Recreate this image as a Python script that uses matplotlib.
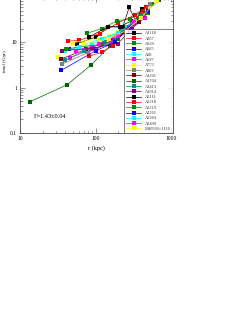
import matplotlib
matplotlib.use("Agg")
import matplotlib.pyplot as plt
import numpy as np

plt.rcParams['font.family'] = ['Liberation Serif', 'DejaVu Serif']

names = ["A1118", "A267", "A520", "A665", "A68", "A697", "A773", "A963",
         "A1201", "A1704", "A1413", "A1914", "A2111", "A2218", "A2219",
         "A2261", "A2384", "A2409", "MS0906+1110"]
colors = ["#000000", "#ff0000", "#008c00", "#0000ff", "#00ffff", "#ff00ff",
          "#ffff00", "#808080", "#800000", "#006400", "#009090", "#800080",
          "#000000", "#ff0000", "#008c00", "#0000ff", "#00ffff", "#ff00ff",
          "#ffff00"]

r_A1118 = [57, 100, 146, 210, 300]
t_A1118 = [9.4, 13, 22, 22, 30]
r_A267 = [43, 60, 113, 200, 330, 460]
t_A267 = [10.6, 11, 15.6, 27, 40, 60]
r_A520 = [77, 120, 195, 290, 560]
t_A520 = [15.9, 20, 30, 33, 70]
r_A665 = [45, 100, 170, 280, 480]
t_A665 = [7.1, 7, 11, 20, 45]
r_A68 = [40, 90, 150, 250, 400]
t_A68 = [6.5, 9, 13, 22, 38]
r_A697 = [46, 90, 160, 280, 450]
t_A697 = [4.6, 7, 10, 18, 35]
r_A773 = [32, 51, 110, 200, 350]
t_A773 = [4.8, 9.9, 12, 17, 30]
r_A963 = [36, 80, 140, 250, 520]
t_A963 = [3.3, 6, 9, 18, 70]
r_A1201 = [35, 75, 130, 230, 380]
t_A1201 = [4.3, 7, 10, 17, 28]
r_A1704 = [13.6, 42, 86, 154, 260, 700]
t_A1704 = [0.49, 1.16, 3.1, 8.1, 20, 88]
r_A1413 = [40, 70, 130, 220, 400]
t_A1413 = [4.0, 6.5, 10, 18, 40]
r_A1914 = [35.5, 90, 197, 300, 500]
t_A1914 = [6.5, 7.5, 9.3, 20, 45]
r_A2111 = [81, 146, 230, 278, 340, 410]
t_A2111 = [13, 22, 22, 59, 30, 55]
r_A2218 = [81, 120, 170, 260, 420]
t_A2218 = [4.9, 6, 8.5, 20, 50]
r_A2219 = [40.6, 120, 200, 300, 480]
t_A2219 = [7.2, 9, 12, 28, 45]
r_A2261 = [35, 100, 180, 280, 500]
t_A2261 = [2.4, 6.5, 10, 22, 48]
r_A2384 = [60, 120, 200, 330]
t_A2384 = [8, 12, 16, 30]
r_A2409 = [55, 110, 200, 320]
t_A2409 = [6.5, 9, 14, 28]
r_MS0906 = [70, 150, 250, 400, 650]
t_MS0906 = [9, 12, 18, 35, 80]

radii = [r_A1118, r_A267, r_A520, r_A665, r_A68, r_A697, r_A773, r_A963,
         r_A1201, r_A1704, r_A1413, r_A1914, r_A2111, r_A2218, r_A2219,
         r_A2261, r_A2384, r_A2409, r_MS0906]
tcool = [t_A1118, t_A267, t_A520, t_A665, t_A68, t_A697, t_A773, t_A963,
         t_A1201, t_A1704, t_A1413, t_A1914, t_A2111, t_A2218, t_A2219,
         t_A2261, t_A2384, t_A2409, t_MS0906]

W, H = 249, 323
fig = plt.figure(figsize=(W / 100, H / 100), dpi=100)
ax_l, ax_r, ax_b, ax_t = 20, 173, 133, -3
ax = fig.add_axes([ax_l / W, 1 - ax_b / H, (ax_r - ax_l) / W, (ax_b - ax_t) / H])

for nm, c, r, t in zip(names, colors, radii, tcool):
    ax.plot(r, t, color=c, lw=0.5, marker='s', markersize=2.3,
            markeredgewidth=0, label=nm)

ax.set_xscale('log')
ax.set_yscale('log')
ax.set_xlim(10, 1060)
ax.set_ylim(0.1, 100)

ax.tick_params(which='both', direction='in', top=True, right=True,
               labelsize=4, pad=2, color='#444444', width=0.4)
ax.tick_params(which='major', length=3.5)
ax.tick_params(which='minor', length=1.8)
ax.set_xticks([10, 100, 1000])
ax.set_xticklabels(['10', '100', '1000'])
ax.set_yticks([0.1, 1, 10])
ax.set_yticklabels(['0.1', '1', '10'])
for s in ax.spines.values():
    s.set_linewidth(0.6)
    s.set_color('#444444')

ax.set_xlabel('r (kpc)', fontsize=4.5, labelpad=3)
ax.set_ylabel(r't$_{\rm cool}$ (Gyr)', fontsize=3.8, labelpad=1)
ax.yaxis.set_label_coords(-11 / (ax_r - ax_l), 1 - (61 - ax_t) / (ax_b - ax_t))
ax.text(15.4, 0.23, 'Γ=1.43±0.04', fontsize=4.5, va='center', ha='left')

leg = ax.legend(loc='lower right', fontsize=3.2, frameon=True, fancybox=False,
                edgecolor='#444444', borderaxespad=0, handlelength=3.2,
                handletextpad=1.0, labelspacing=0.27, borderpad=0.45,
                markerscale=1.0)
leg.get_frame().set_linewidth(0.6)
for txt in leg.get_texts():
    txt.set_color('#333333')

fig.savefig('out.png', dpi=100)
